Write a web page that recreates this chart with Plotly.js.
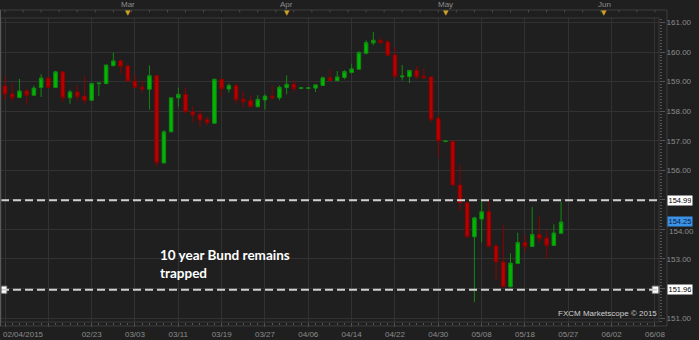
<!DOCTYPE html>
<html>
<head>
<meta charset="utf-8">
<script src="https://cdn.plot.ly/plotly-3.0.1.min.js"></script>
<style>
  html, body { margin: 0; padding: 0; background: #1f1f1f; }
  #chart { width: 699px; height: 340px; }
</style>
</head>
<body>
<div id="chart"></div>
<script>
// ---- data (daily candles, index 0 = 02/04/2015) ----
const opens  = [158.85,158.58,158.46,158.68,158.54,158.80,159.12,158.80,159.33,158.45,158.65,158.51,158.37,158.93,158.93,159.54,159.70,159.53,159.02,158.81,158.74,159.20,156.25,157.30,158.45,158.57,157.98,157.89,157.72,157.59,159.08,158.75,158.86,158.40,158.36,158.15,158.38,158.51,158.45,158.80,158.91,158.77,158.77,158.78,158.87,159.13,159.03,159.14,159.31,159.42,159.96,160.31,160.39,160.34,159.90,159.16,159.17,159.38,159.18,159.16,157.75,156.97,156.98,155.50,154.90,153.75,154.35,154.60,153.44,152.90,152.06,152.85,153.56,153.42,153.82,153.71,153.46,153.87];
const highs  = [159.17,158.94,159.09,158.77,158.86,159.25,159.14,159.36,159.35,158.72,158.87,159.19,158.95,158.96,159.57,159.98,159.75,159.55,159.25,159.03,159.55,159.22,157.36,158.46,158.80,158.81,158.18,158.04,157.81,159.10,159.10,158.94,158.94,158.66,158.54,158.54,158.57,158.87,158.87,159.21,159.05,158.79,158.79,158.89,159.17,159.42,159.36,159.39,159.61,160.04,160.40,160.68,160.50,160.41,160.16,159.56,159.39,159.53,159.45,159.17,157.87,157.00,156.99,156.20,154.91,154.43,154.96,155.00,153.50,154.13,153.19,153.89,153.81,154.76,154.43,153.98,154.17,154.94];
const lows   = [158.38,158.34,158.44,158.21,158.52,158.48,158.78,158.78,158.32,158.25,158.34,158.25,158.34,158.52,158.92,159.51,159.25,159.01,158.79,158.63,158.06,156.12,156.23,157.29,158.15,157.93,157.61,157.48,157.53,157.57,158.49,158.63,158.25,158.13,158.13,158.13,158.06,158.39,158.37,158.57,158.65,158.77,158.77,158.65,158.86,159.02,159.02,159.08,159.27,159.41,159.92,160.23,160.27,159.88,159.16,159.04,158.95,159.08,159.08,157.63,156.43,156.96,155.49,154.62,153.72,151.54,153.56,153.41,152.29,152.05,152.03,152.84,153.25,153.41,153.55,153.01,153.45,153.86];
const closes = [158.58,158.46,158.68,158.54,158.78,159.12,158.80,159.33,158.46,158.65,158.49,158.37,158.94,158.95,159.56,159.70,159.51,159.02,158.80,158.75,159.20,156.26,157.30,158.45,158.57,157.98,157.87,157.70,157.61,159.08,158.76,158.87,158.39,158.32,158.15,158.40,158.51,158.45,158.81,158.91,158.77,158.79,158.79,158.89,159.13,159.04,159.16,159.34,159.43,159.98,160.32,160.40,160.32,159.89,159.17,159.19,159.38,159.16,159.13,157.72,156.99,156.99,155.50,154.90,153.75,154.39,154.60,153.42,152.90,152.06,152.86,153.56,153.42,153.83,153.69,153.46,153.88,154.25];

const dateTickIdx    = [0,6,12,18,24,30,36,42,48,54,60,66,72,78,84,90];
const dateTickLabels = ['02/04/2015','','02/23','03/03','03/11','03/19','03/27','04/06','04/14','04/22','04/30','05/08','05/18','05/27','06/02','06/08'];
const monthIdx    = [17,39,61,83];
const monthLabels = ['Mar','Apr','May','Jun'];
const levelLines  = [154.99, 151.96];
const priceTicks  = [151,152,153,154,155,156,157,158,159,160,161];
const hiddenPriceLabels = [152,155];   // covered by the level boxes in the reference
const nudgedPriceLabels = [154];       // drawn just under the last-price box
const noteText    = '10 year Bund remains<br>trapped';
const creditText  = 'FXCM Marketscope © 2015';

// ---- geometry helpers ----
const W = 699, H = 340;
const M = {l: 1, r: 40, t: 18, b: 18};
const plotW = W - M.l - M.r, plotH = H - M.t - M.b;
const px = x => (x - M.l) / plotW;          // page px -> paper x
const py = y => (H - M.b - y) / plotH;      // page px -> paper y
const xRange = [-0.554, 90.56];
const yRange = [150.868, 161.152];

const xs = closes.map((_, i) => i);
const lastClose = closes[closes.length - 1];

const GRID = '#323232', TXT = '#8c8c8c', FONT = 'Liberation Sans, Arial, sans-serif';

const traces = [{
  type: 'candlestick',
  x: xs, open: opens, high: highs, low: lows, close: closes,
  increasing: {line: {color: '#118a11', width: 1}, fillcolor: '#00b800'},
  decreasing: {line: {color: '#8e0000', width: 1}, fillcolor: '#b80000'},
  whiskerwidth: 0,
  hoverinfo: 'skip',
  showlegend: false
}, {
  type: 'scatter', mode: 'markers',
  x: [xRange[0] + 0.3, xRange[1] - 0.45],
  y: [levelLines[1], levelLines[1]],
  marker: {symbol: 'square', size: 7, color: '#ffffff', line: {color: '#9a9a9a', width: 1}},
  cliponaxis: false, hoverinfo: 'skip', showlegend: false
}];

const shapes = [];
levelLines.forEach(v => shapes.push({
  type: 'line', xref: 'paper', yref: 'y', x0: 0, x1: 1, y0: v, y1: v,
  line: {color: '#cfcfcf', width: 2, dash: '8px,4px'}, layer: 'above'
}));
// frame pieces
shapes.push({type: 'rect', xref: 'paper', yref: 'paper', x0: 0, x1: 1, y0: 0, y1: 1,
  line: {color: '#3a3a3a', width: 1}, layer: 'above'});
shapes.push({type: 'line', xref: 'paper', yref: 'paper', x0: px(0), x1: px(667), y0: py(10), y1: py(10),
  line: {color: '#3e3e3e', width: 1}});
shapes.push({type: 'line', xref: 'paper', yref: 'paper', x0: px(667), x1: px(667), y0: py(10), y1: py(326),
  line: {color: '#3e3e3e', width: 1}});
shapes.push({type: 'line', xref: 'paper', yref: 'paper', x0: px(0), x1: px(667), y0: py(326), y1: py(326),
  line: {color: '#3e3e3e', width: 1}});
shapes.push({type: 'line', xref: 'paper', yref: 'paper', x0: px(0.5), x1: px(0.5), y0: py(10), y1: py(326),
  line: {color: '#5a5a5a', width: 1}});
// small ticks hanging from the top strip line (ruler)
for (let k = 0; k <= 36; k++) {
  const xv = xRange[0] + 0.55 + k * 2.5;
  if (xv > xRange[1]) break;
  shapes.push({type: 'line', xref: 'x', yref: 'paper', x0: xv, x1: xv, y0: py(10), y1: py(12.5),
    line: {color: '#4a4a4a', width: 1}});
}

const annotations = [];
monthIdx.forEach((m, k) => {
  annotations.push({xref: 'x', yref: 'paper', x: m, y: py(5), text: monthLabels[k], showarrow: false,
    font: {family: FONT, size: 8, color: TXT}, xanchor: 'center', yanchor: 'middle'});
  annotations.push({xref: 'x', yref: 'paper', x: m, y: py(13), text: '▼', showarrow: false,
    font: {family: 'DejaVu Sans', size: 7, color: '#c9a227'}, xanchor: 'center', yanchor: 'middle'});
});
annotations.push({xref: 'paper', yref: 'paper', x: 0, y: py(334), text: dateTickLabels[0], showarrow: false,
  font: {family: FONT, size: 8, color: TXT}, xanchor: 'left', yanchor: 'middle'});
nudgedPriceLabels.forEach(v => annotations.push({xref: 'paper', yref: 'y', x: px(667), y: v,
  text: v.toFixed(2), showarrow: false, xanchor: 'left', yanchor: 'middle', yshift: -2.5,
  font: {family: FONT, size: 8, color: TXT}}));
levelLines.forEach(v => annotations.push({xref: 'paper', yref: 'y', x: px(667), y: v,
  text: v.toFixed(2), showarrow: false, xanchor: 'left', yanchor: 'middle', height: 8,
  bgcolor: '#ffffff', borderpad: 0.5, font: {family: FONT, size: 7.5, color: '#000000'}}));
annotations.push({xref: 'paper', yref: 'y', x: px(667), y: lastClose, yshift: 1,
  text: lastClose.toFixed(2), showarrow: false, xanchor: 'left', yanchor: 'middle', height: 8,
  bgcolor: '#3a93e8', borderpad: 0.5, font: {family: FONT, size: 7.5, color: '#0a1a40'}});
annotations.push({xref: 'paper', yref: 'paper', x: px(158), y: py(263.5), text: '<b>' + noteText + '</b>',
  showarrow: false, xanchor: 'left', yanchor: 'middle', align: 'left',
  font: {family: 'Lato, Roboto, sans-serif', size: 13.5, color: '#ffffff'}});
annotations.push({xref: 'paper', yref: 'paper', x: 1, y: py(313), text: creditText,
  showarrow: false, xanchor: 'right', yanchor: 'middle',
  font: {family: FONT, size: 8, color: '#d0d0d0'}});

const layout = {
  width: W, height: H,
  margin: M,
  paper_bgcolor: '#1f1f1f', plot_bgcolor: '#1f1f1f',
  showlegend: false,
  xaxis: {
    range: xRange, autorange: false, fixedrange: true,
    rangeslider: {visible: false},
    tickmode: 'array', tickvals: dateTickIdx, ticktext: dateTickLabels.map((t, i) => i === 0 ? '' : t),
    showgrid: true, gridcolor: GRID, gridwidth: 1, zeroline: false,
    ticks: 'outside', ticklen: 4, tickcolor: '#555',
    minor: {dtick: 1, tick0: 0, ticks: 'outside', ticklen: 2, tickcolor: '#555', showgrid: false},
    tickfont: {family: FONT, size: 8, color: TXT},
    showline: false
  },
  yaxis: {
    range: yRange, autorange: false, fixedrange: true, side: 'right',
    tickmode: 'array', tickvals: priceTicks,
    ticktext: priceTicks.map(v => (hiddenPriceLabels.includes(v) || nudgedPriceLabels.includes(v)) ? '' : v.toFixed(2)),
    showgrid: true, gridcolor: GRID, gridwidth: 1, zeroline: false,
    ticks: 'outside', ticklen: 5, tickcolor: '#555',
    minor: {dtick: 0.1, tick0: 151, ticks: 'outside', ticklen: 2, tickcolor: '#555', showgrid: false},
    tickfont: {family: FONT, size: 8, color: TXT},
    showline: false
  },
  shapes: shapes,
  annotations: annotations
};

Plotly.newPlot('chart', traces, layout, {staticPlot: true, displayModeBar: false});
</script>
</body>
</html>
